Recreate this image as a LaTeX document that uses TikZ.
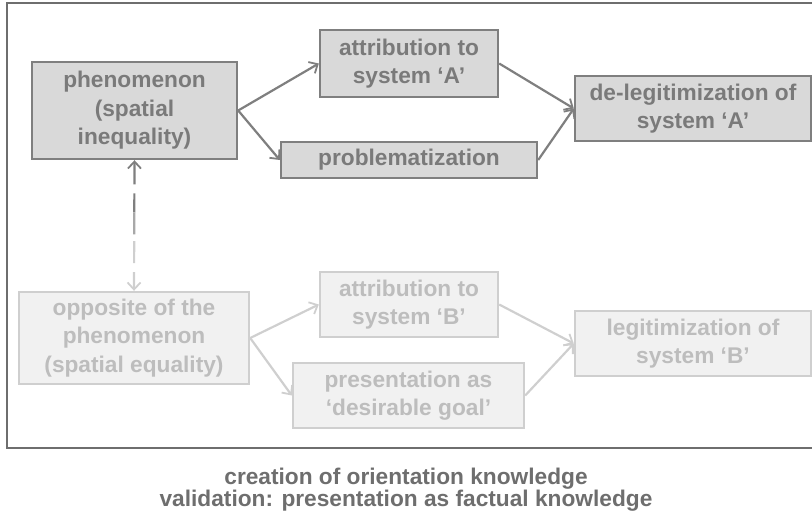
\documentclass[tikz,border=0pt]{standalone}
\usepackage{fontspec}
\setmainfont{Liberation Sans}
\usetikzlibrary{arrows.meta, calc}
\definecolor{darkline}{HTML}{7F7F7F}
\definecolor{darkfill}{HTML}{D9D9D9}
\definecolor{darktext}{HTML}{7A7A7A}
\definecolor{midline}{HTML}{A8A8A8}
\definecolor{lightline}{HTML}{CFCFCF}
\definecolor{lightfill}{HTML}{F1F1F1}
\definecolor{lighttext}{HTML}{BDBDBD}
\definecolor{captext}{HTML}{6E6E6E}
\definecolor{framecol}{HTML}{6E6E6E}
\begin{document}
\begin{tikzpicture}[
            x=1pt, y=-1pt,
            font=\fontsize{22.7}{28.5}\selectfont\bfseries,
            darkbox/.style={draw=darkline, fill=darkfill, text=darktext, line width=2.4pt, align=center, inner sep=0pt},
            lightbox/.style={draw=lightline, fill=lightfill, text=lighttext, line width=2.4pt, align=center, inner sep=0pt},
            darkarrow/.style={-{Straight Barb[length=7pt, width=13pt, line width=1.8pt]}, draw=darkline, line width=2.2pt},
            lightarrow/.style={-{Straight Barb[length=7pt, width=13pt, line width=1.8pt]}, draw=lightline, line width=2.2pt},
            dashpart/.style={line width=2.2pt, dash pattern=on 22pt off 9pt},
        ]
            \useasboundingbox (0, 0) rectangle (812, 517);
            \draw[draw=framecol, line width=2pt] (812, 3) -- (7, 3) -- (7, 448) -- (812, 448);
            % upper row: system 'A'
            \node[darkbox, minimum width=205pt, minimum height=97pt] (phen) at (134.5, 110.5) {phenomenon\\(spatial\\inequality)};
            \node[darkbox, minimum width=178pt, minimum height=67pt] (attrA) at (409, 63.5) {attribution to\\system ‘A’};
            \node[darkbox, minimum width=256pt, minimum height=36pt] (probl) at (409, 160) {problematization};
            \node[darkbox, minimum width=236pt, minimum height=65pt] (delegit) at (693, 108.5) {de-legitimization of\\system ‘A’};
            % lower row: system 'B'
            \node[lightbox, minimum width=230pt, minimum height=92pt] (oppos) at (134, 338) {opposite of the\\phenomenon\\(spatial equality)};
            \node[lightbox, minimum width=178pt, minimum height=65pt] (attrB) at (409, 304.5) {attribution to\\system ‘B’};
            \node[lightbox, minimum width=231pt, minimum height=65pt] (pres) at (408.5, 395.5) {presentation as\\‘desirable goal’};
            \node[lightbox, minimum width=236pt, minimum height=65pt] (legit) at (693, 343.5) {legitimization of\\system ‘B’};
            \draw[darkarrow] (phen.east) -- (attrA.west);
            \draw[darkarrow] (phen.east) -- (probl.west);
            \draw[darkarrow] (attrA.east) -- (delegit.west);
            \draw[darkarrow] (probl.east) -- (delegit.west);
            \draw[lightarrow] (oppos.east) -- (attrB.west);
            \draw[lightarrow] (oppos.east) -- (pres.west);
            \draw[lightarrow] (attrB.east) -- (legit.west);
            \draw[lightarrow] (pres.east) -- (legit.west);
            % dashed link, fading from dark to light
            \coordinate (upmid) at ($(phen.south)!0.4!(oppos.north)$);
            \coordinate (lowmid) at ($(phen.south)!0.62!(oppos.north)$);
            \draw[darkarrow, dashpart, {Straight Barb[length=7pt, width=13pt, line width=1.8pt]}-] (phen.south) -- (upmid);
            \draw[dashpart, draw=midline] (upmid) -- (lowmid);
            \draw[lightarrow, dashpart] (lowmid) -- (oppos.north);
            \node[text=captext, font=\fontsize{22.7}{20.5}\selectfont\bfseries, align=center] (caption) at (406, 490) {creation of orientation knowledge\\validation: presentation as factual knowledge};
        \end{tikzpicture}
\end{document}
